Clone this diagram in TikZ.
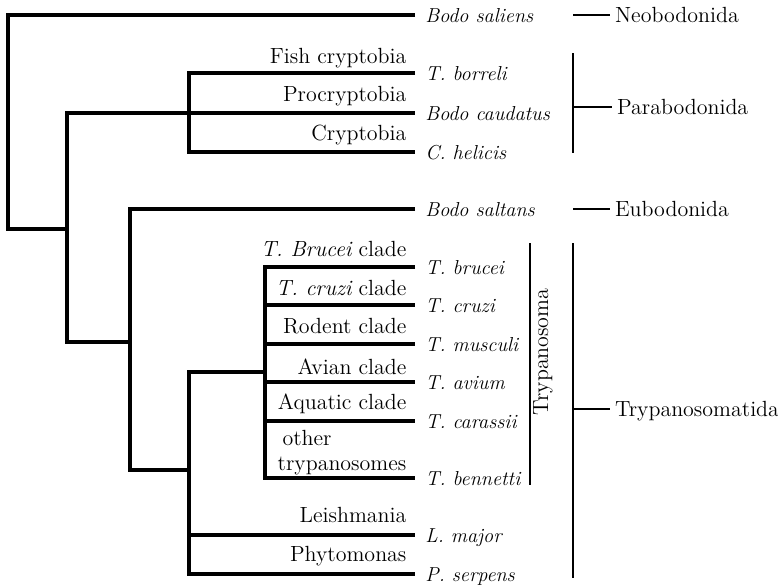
\documentclass[tikz,border=0pt]{standalone}
\usepackage{tikz}

\begin{document}
\begin{tikzpicture}[x=0.02cm, y=-0.02cm, line width=1.8pt,
  leaf/.style={anchor=west, inner sep=5pt, text height=9pt, text depth=1pt, font=\fontsize{11.5}{13}\selectfont\itshape},
  clade/.style={anchor=base east, inner sep=0pt, font=\fontsize{12.5}{15}\selectfont},
  group/.style={anchor=west, inner sep=2pt, text height=9.5pt, text depth=0.5pt, font=\fontsize{12.5}{15}\selectfont},
  bracket/.style={line width=1.5pt}]
  \useasboundingbox (0,0) rectangle (778,585);
  % leaves
  \node[leaf] (saliens) at (415,15) {Bodo saliens};
  \node[leaf] (borreli) at (415,73) {T. borreli};
  \node[leaf] (caudatus) at (415,113) {Bodo caudatus};
  \node[leaf] (helicis) at (415,152) {C. helicis};
  \node[leaf] (saltans) at (415,209) {Bodo saltans};
  \node[leaf] (brucei) at (415,267) {T. brucei};
  \node[leaf] (cruzi) at (415,305) {T. cruzi};
  \node[leaf] (musculi) at (415,344) {T. musculi};
  \node[leaf] (avium) at (415,382) {T. avium};
  \node[leaf] (carassii) at (415,421) {T. carassii};
  \node[leaf] (bennetti) at (415,478) {T. bennetti};
  \node[leaf] (major) at (415,535) {L. major};
  \node[leaf] (serpens) at (415,574) {P. serpens};
  % clade names over the branches
  \node[clade] (fishlab) at (408,63) {Fish cryptobia};
  \node[clade] (procrlab) at (408,101) {Procryptobia};
  \node[clade] (cryptlab) at (408,140) {Cryptobia};
  \node[clade] (brucelab) at (408,256) {{\itshape T. Brucei} clade};
  \node[clade] (cruzlab) at (408,295) {{\itshape T. cruzi} clade};
  \node[clade] (rodlab) at (408,333) {Rodent clade};
  \node[clade] (avlab) at (408,374) {Avian clade};
  \node[clade] (aqlab) at (408,409) {Aquatic clade};
  \node[clade] (trylab) at (408,470) {trypanosomes};
  \node[clade, anchor=base west] (othlab) at (281,445) {other};
  \node[clade] (leishlab) at (408,522) {Leishmania};
  \node[clade] (phytlab) at (408,561) {Phytomonas};
  % inner nodes
  \coordinate (r) at (8,120);
  \coordinate (a) at (67,229);
  \coordinate (p) at (189,113);
  \coordinate (b) at (130,342);
  \coordinate (c) at (189,470);
  \coordinate (d) at (265,372);
  % branches
  \draw (saliens.west) -| (r) |- (a);
  \draw (p) -| (a) |- (b);
  \draw (borreli.west) -| (p) |- (helicis.west);
  \draw (p) -- (caudatus.west);
  \draw (saltans.west) -| (b) |- (c);
  \draw (d) -| (c) |- (serpens.west);
  \draw (c |- major.west) -- (major.west);
  \draw (brucei.west) -| (d) |- (bennetti.west);
  \foreach \n in {cruzi,musculi,avium,carassii}
  { \draw (d |- \n.west) -- (\n.west);
  }
  % groups on the right
  \node[group] (neo) at (610,15) {Neobodonida};
  \node[group] (para) at (612,107) {Parabodonida};
  \node[group] (eu) at (610,209) {Eubodonida};
  \node[group] (tmatida) at (610,409) {Trypanosomatida};
  \node[font=\fontsize{12.5}{15}\selectfont, rotate=90, inner sep=0pt] (trypa) at (543,352) {Trypanosoma};
  \coordinate (neobar) at (573,15);
  \coordinate (paratop) at (573,53);
  \coordinate (parabot) at (573,153);
  \coordinate (eubar) at (573,209);
  \coordinate (trytop) at (530,243);
  \coordinate (trybot) at (530,485);
  \coordinate (tmtop) at (573,243);
  \coordinate (tmbot) at (573,578);
  \draw[bracket] (neobar) -- (neo.west);
  \draw[bracket] (paratop) -- (parabot);
  \draw[bracket] (paratop |- para.west) -- (para.west);
  \draw[bracket] (eubar) -- (eu.west);
  \draw[bracket] (trytop) -- (trybot);
  \draw[bracket] (tmtop) -- (tmbot);
  \draw[bracket] (tmtop |- tmatida.west) -- (tmatida.west);
\end{tikzpicture}
\end{document}
